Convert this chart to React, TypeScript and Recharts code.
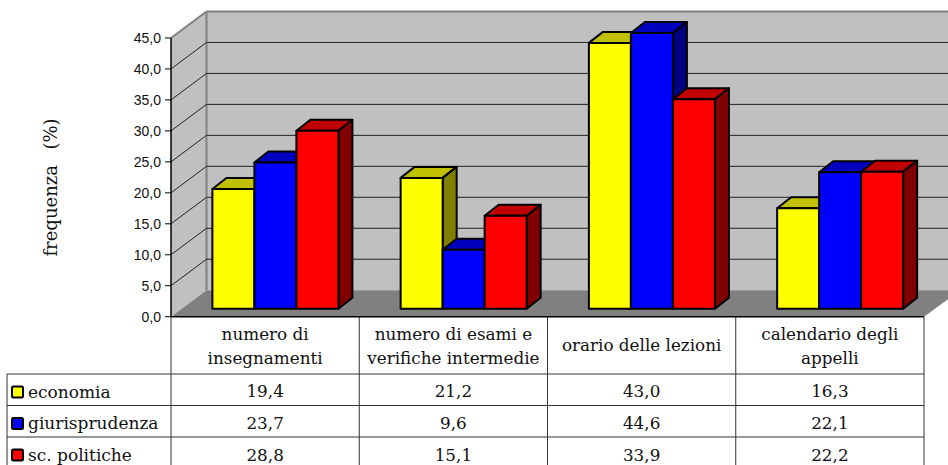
import { ComposedChart, Bar, XAxis, YAxis, CartesianGrid } from 'recharts';

const categorie = ['numero di insegnamenti', 'numero di esami e verifiche intermedie', 'orario delle lezioni', 'calendario degli appelli'];
const righeCategorie = [['numero di', 'insegnamenti'], ['numero di esami e', 'verifiche intermedie'], ['orario delle lezioni'], ['calendario degli', 'appelli']];
const economia = [19.4, 21.2, 43.0, 16.3];
const giurisprudenza = [23.7, 9.6, 44.6, 22.1];
const politiche = [28.8, 15.1, 33.9, 22.2];
const tickY = [0, 5, 10, 15, 20, 25, 30, 35, 40, 45];

const serie = [
  { key: 'economia', nome: 'economia', valori: economia, front: '#ffff00', top: '#c0c000', side: '#808000' },
  { key: 'giurisprudenza', nome: 'giurisprudenza', valori: giurisprudenza, front: '#0000ff', top: '#0000c0', side: '#000080' },
  { key: 'politiche', nome: 'sc. politiche', valori: politiche, front: '#ff0000', top: '#c00000', side: '#800000' },
];

const dati = categorie.map((nome, i) => ({
  nome,
  economia: economia[i],
  giurisprudenza: giurisprudenza[i],
  politiche: politiche[i],
}));

const W = 948;
const H = 465;
const LEFT = 171;
const RIGHT = 924;
const TOP = 38;
const BOTTOM = 316.7;
const DX = 35.5;
const DY = 26.5;
const SERIF = '"DejaVu Serif", serif';
const virgola = (v: number) => v.toFixed(1).replace('.', ',');

const Barra3D = (props: any) => {
  const { x, y, width, height, front, top, side } = props;
  const px = x + 10.4;
  const py = y - 7.5;
  const h = height - 0.5;
  const dx = 14;
  const dy = 11;
  const linea = { stroke: '#000', strokeWidth: 2, strokeLinejoin: 'round' as const };
  return (
    <g>
      <polygon points={`${px},${py} ${px + dx},${py - dy} ${px + width + dx},${py - dy} ${px + width},${py}`} fill={top} {...linea} />
      <polygon points={`${px + width},${py} ${px + width + dx},${py - dy} ${px + width + dx},${py + h - dy} ${px + width},${py + h}`} fill={side} {...linea} />
      <rect x={px} y={py} width={width} height={h} fill={front} {...linea} />
    </g>
  );
};

const Pareti = () => (
  <g>
    <polygon points={`${LEFT},${TOP} ${LEFT + DX},${TOP - DY} ${W},${TOP - DY} ${W},${BOTTOM - DY} ${LEFT + DX},${BOTTOM - DY} ${LEFT},${BOTTOM}`} fill="#c0c0c0" />
    <line x1={LEFT + DX} y1={TOP - DY} x2={LEFT + DX} y2={BOTTOM - DY} stroke="#808080" strokeWidth={2} />
    <polygon points={`${LEFT},${BOTTOM} ${LEFT + DX},${BOTTOM - DY} ${W},${BOTTOM - DY} ${W},${BOTTOM - 17.5} ${RIGHT},${BOTTOM}`} fill="#808080" />
  </g>
);

// la griglia parte dallo zero: li disegno anche le pareti, cosi restano sotto le righe
const RigaGriglia = (props: any) => {
  const { y1 } = props;
  if (Math.abs(y1 - BOTTOM) < 1) return <Pareti />;
  const inCima = Math.abs(y1 - TOP) < 1;
  const colore = inCima ? '#808080' : '#222';
  const spessore = inCima ? 2 : 1;
  return (
    <g>
      <line x1={LEFT} y1={y1} x2={LEFT + DX} y2={y1 - DY} stroke={colore} strokeWidth={spessore} />
      <line x1={LEFT + DX} y1={y1 - DY} x2={W} y2={y1 - DY} stroke={colore} strokeWidth={spessore} />
    </g>
  );
};

const TickTabella = (props: any) => {
  const { x, index } = props;
  const righe = righeCategorie[index];
  const yRighe = righe.length === 2 ? [340, 364] : [351];
  return (
    <g fontFamily={SERIF} fontSize={16.8} fill="#111" textAnchor="middle">
      {righe.map((r, i) => (
        <text key={r} x={x} y={yRighe[i]}>{r}</text>
      ))}
      {serie.map((s, i) => (
        <text key={s.key} x={x} y={397 + i * 32}>{virgola(s.valori[index])}</text>
      ))}
    </g>
  );
};

const Tabella = () => {
  const larghezza = (RIGHT - LEFT) / 4;
  return (
    <g>
      {[0, 1, 2, 3, 4].map((i) => (
        <line key={i} x1={LEFT + i * larghezza} y1={BOTTOM} x2={LEFT + i * larghezza} y2={H} stroke="#333" strokeWidth={1} />
      ))}
      <line x1={7} y1={374} x2={7} y2={H} stroke="#333" strokeWidth={1} />
      {[374, 405.5, 437].map((y) => (
        <line key={y} x1={7} y1={y} x2={RIGHT} y2={y} stroke="#333" strokeWidth={1} />
      ))}
      {serie.map((s, i) => (
        <g key={s.key}>
          <rect x={12} y={386.5 + i * 31.5} width={11} height={11} rx={1.5} fill={s.front} stroke="#000" strokeWidth={2} />
          <text x={28} y={397.5 + i * 31.5} fontFamily={SERIF} fontSize={17} fill="#111">{s.nome}</text>
        </g>
      ))}
      <text
        transform="translate(57,187.5) rotate(-90)"
        textAnchor="middle"
        fontFamily={SERIF}
        fontSize={18}
        wordSpacing={2}
        fill="#111"
        style={{ whiteSpace: 'pre' }}
      >
        {'frequenza  (%)'}
      </text>
    </g>
  );
};

const App = () => {
  return (
    <div style={{ position: 'absolute', left: 0, top: 0, width: W, height: H, overflow: 'hidden', background: '#fff' }}>
      <ComposedChart
        width={W}
        height={H}
        data={dati}
        margin={{ top: TOP, right: W - RIGHT, bottom: 0, left: 0 }}
        barSize={42}
        barGap={0}
      >
        <CartesianGrid vertical={false} horizontal={(p: any) => <RigaGriglia key={p.key} {...p} />} />
        <XAxis
          dataKey="nome"
          height={H - BOTTOM}
          interval={0}
          tickLine={false}
          axisLine={{ stroke: '#000', strokeWidth: 1.5 }}
          tick={(p: any) => <TickTabella {...p} />}
        />
        <YAxis
          width={LEFT}
          domain={[0, 45]}
          ticks={tickY}
          tickSize={6}
          tickMargin={4}
          tickFormatter={virgola}
          axisLine={{ stroke: '#000', strokeWidth: 1.5 }}
          tickLine={{ stroke: '#000' }}
          tick={{ fontFamily: '"Liberation Sans", sans-serif', fontSize: 14, fill: '#111' }}
        />
        {serie.map((s) => (
          <Bar
            key={s.key}
            dataKey={s.key}
            isAnimationActive={false}
            shape={(p: any) => <Barra3D {...p} front={s.front} top={s.top} side={s.side} />}
          />
        ))}
        <Tabella />
      </ComposedChart>
    </div>
  );
};

export default App;
